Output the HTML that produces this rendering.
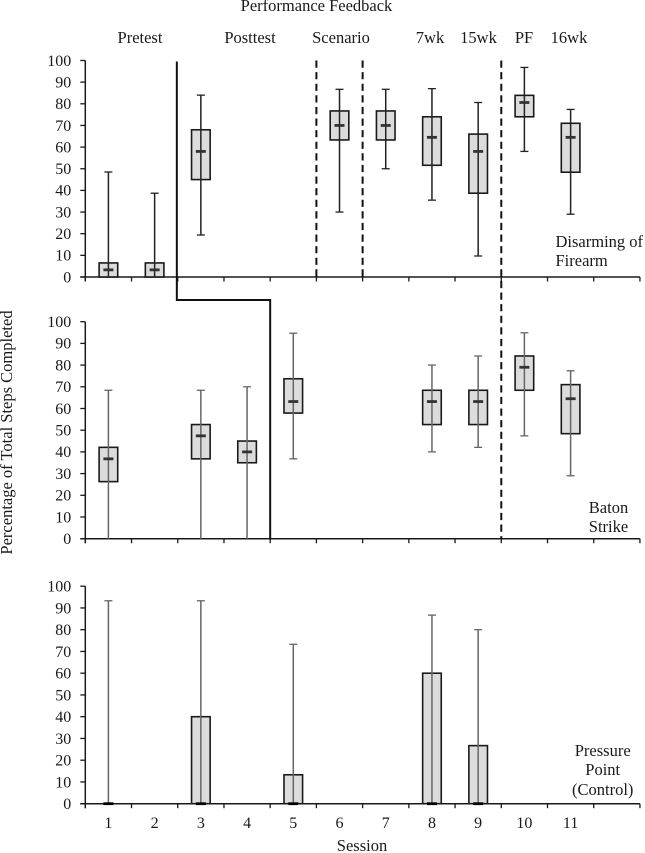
<!DOCTYPE html>
<html>
<head>
<meta charset="utf-8">
<style>
html,body{margin:0;padding:0;background:#fff;}
svg{display:block;}
text{font-family:"Liberation Serif",serif;fill:#1a1a1a;font-size:16.5px;}
text.tick{font-size:16px;}
</style>
</head>
<body>
<svg id="chart" width="645" height="853" viewBox="0 0 645 853">
  <text x="316.5" y="11" text-anchor="middle">Performance Feedback</text>
  <text x="140" y="43" text-anchor="middle">Pretest</text>
  <text x="250" y="43" text-anchor="middle">Posttest</text>
  <text x="341" y="43" text-anchor="middle">Scenario</text>
  <text x="430" y="43" text-anchor="middle">7wk</text>
  <text x="478.5" y="43" text-anchor="middle">15wk</text>
  <text x="524" y="43" text-anchor="middle">PF</text>
  <text x="569" y="43" text-anchor="middle">16wk</text>
  <text x="555.5" y="247">Disarming of</text>
  <text x="555.5" y="266">Firearm</text>
  <text x="608.5" y="513" text-anchor="middle">Baton</text>
  <text x="608.5" y="532" text-anchor="middle">Strike</text>
  <text x="602.7" y="756" text-anchor="middle">Pressure</text>
  <text x="602.7" y="775" text-anchor="middle">Point</text>
  <text x="602.7" y="795" text-anchor="middle">(Control)</text>
  <text x="362" y="851" text-anchor="middle">Session</text>
  <text transform="translate(12,432.5) rotate(-90)" text-anchor="middle">Percentage of Total Steps Completed</text>
</svg>
<script>
var yTicks = [0, 10, 20, 30, 40, 50, 60, 70, 80, 90, 100];
var sessionLabels = [1, 2, 3, 4, 5, 6, 7, 8, 9, 10, 11];

var disarmSessions = [1, 2, 3, 6, 7, 8, 9, 10, 11];
var disarmMedian = [3.3, 3.3, 58, 70, 70, 64.5, 58, 80.6, 64.5];
var disarmQ1 = [0, 0, 45, 63.3, 63.3, 51.6, 38.7, 74, 48.4];
var disarmQ3 = [6.5, 6.5, 68, 76.7, 76.7, 74, 66, 83.9, 71];
var disarmLow = [0, 0, 19.4, 30, 50, 35.5, 9.7, 58, 29];
var disarmHigh = [48.5, 38.7, 84, 86.7, 86.7, 87, 80.6, 96.8, 77.4];

var batonSessions = [1, 3, 4, 5, 8, 9, 10, 11];
var batonMedian = [36.8, 47.4, 40, 63.2, 63.2, 63.2, 79, 64.5];
var batonQ1 = [26.3, 36.8, 35, 57.9, 52.6, 52.6, 68.4, 48.4];
var batonQ3 = [42.1, 52.6, 45, 73.7, 68.4, 68.4, 84.2, 71];
var batonLow = [0, 0, 0, 36.8, 40, 42.1, 47.4, 29];
var batonHigh = [68.4, 68.4, 70, 94.7, 80, 84.2, 94.9, 77.4];

var pressureSessions = [1, 3, 5, 8, 9];
var pressureMedian = [0, 0, 0, 0, 0];
var pressureQ1 = [0, 0, 0, 0, 0];
var pressureQ3 = [0, 40, 13.3, 60, 26.7];
var pressureLow = [0, 0, 0, 0, 0];
var pressureHigh = [93.3, 93.3, 73.3, 86.7, 80];

var NS = 'http://www.w3.org/2000/svg';
var svg = document.getElementById('chart');
var X0 = 85.3, STEP = 46.22, SLOTS = 12;

function xEdge(i) { return X0 + STEP * i; }
function xSession(s) { return X0 + STEP * (s - 0.5); }
function yScale(top, bottom) {
  return function (v) { return bottom - (bottom - top) * v / 100; };
}
function make(tag, attrs, name) {
  var el = document.createElementNS(NS, tag);
  for (var k in attrs) el.setAttribute(k, attrs[k]);
  
  
  svg.appendChild(el);
  return el;
}
function line(x1, y1, x2, y2, stroke, width, name) {
  return make('line', {x1: x1, y1: y1, x2: x2, y2: y2, stroke: stroke, 'stroke-width': width}, name);
}

function drawAxes(top, bottom, key) {
  var y = yScale(top, bottom);
  line(X0, top, X0, bottom + 4.5, '#1a1a1a', 1.5, key + '-y-axis');
  line(X0 - 5, bottom, xEdge(SLOTS), bottom, '#1a1a1a', 1.5, key + '-x-axis');
  yTicks.forEach(function (t) {
    line(X0 - 5, y(t), X0, y(t), '#1a1a1a', 1.3, key + '-y-tick-' + t);
    var label = make('text', {x: X0 - 14, y: y(t) + 5.3, 'text-anchor': 'end', 'class': 'tick'}, key + '-y-tick-label-' + t);
    label.textContent = t;
  });
  for (var i = 0; i <= SLOTS; i++) {
    line(xEdge(i), bottom, xEdge(i), bottom + 4.5, '#1a1a1a', 1.3, key + '-x-tick-' + i);
  }
}

function drawBoxes(top, bottom, key, sessions, med, q1, q3, low, high, whisker, whiskerWidth) {
  var y = yScale(top, bottom);
  sessions.forEach(function (s, i) {
    var x = xSession(s);
    var tag = key + '-session-' + s;
    make('rect', {x: x - 9.3, y: y(q3[i]), width: 18.6, height: y(q1[i]) - y(q3[i]),
      fill: '#dcdcdc', stroke: '#1a1a1a', 'stroke-width': 1.6}, tag + '-box');
    line(x, y(high[i]), x, y(low[i]), whisker, whiskerWidth, tag + '-whisker');
    line(x - 4, y(high[i]), x + 4, y(high[i]), whisker, 1.3, tag + '-cap-high');
    if (low[i] > 0) {
      line(x - 4, y(low[i]), x + 4, y(low[i]), whisker, 1.3, tag + '-cap-low');
    }
    line(x - 5, y(med[i]), x + 5, y(med[i]), med[i] === 0 ? '#000' : '#333', 2.8, tag + '-median');
  });
}

var topA = 60.5, botA = 277;
var topB = 321.7, botB = 538.7;
var topC = 586.2, botC = 803.7;

drawAxes(topA, botA, 'disarming');
drawAxes(topB, botB, 'baton');
drawAxes(topC, botC, 'pressure');

drawBoxes(topA, botA, 'disarming', disarmSessions, disarmMedian, disarmQ1, disarmQ3, disarmLow, disarmHigh, '#222', 1.5);
drawBoxes(topB, botB, 'baton', batonSessions, batonMedian, batonQ1, batonQ3, batonLow, batonHigh, '#666', 1.5);
drawBoxes(topC, botC, 'pressure', pressureSessions, pressureMedian, pressureQ1, pressureQ3, pressureLow, pressureHigh, '#666', 1.5);

sessionLabels.forEach(function (s) {
  var label = make('text', {x: xSession(s), y: 828, 'text-anchor': 'middle', 'class': 'tick'}, 'session-label-' + s);
  label.textContent = s;
});

var phaseX = xEdge(2) - 0.9;
make('polyline', {
  points: phaseX + ',61.5 ' + phaseX + ',300 ' + xEdge(4) + ',300 ' + xEdge(4) + ',' + botB,
  fill: 'none', stroke: '#111', 'stroke-width': 2
}, 'phase-change-solid-line');

[[5, botA, 'scenario'], [6, botA, 'followup'], [9, botB, 'feedback']].forEach(function (d) {
  make('line', {x1: xEdge(d[0]), y1: topA, x2: xEdge(d[0]), y2: d[1],
    stroke: '#111', 'stroke-width': 2, 'stroke-dasharray': '7.2 4.4'}, 'phase-change-dashed-line-' + d[2]);
});
</script>
</body>
</html>
